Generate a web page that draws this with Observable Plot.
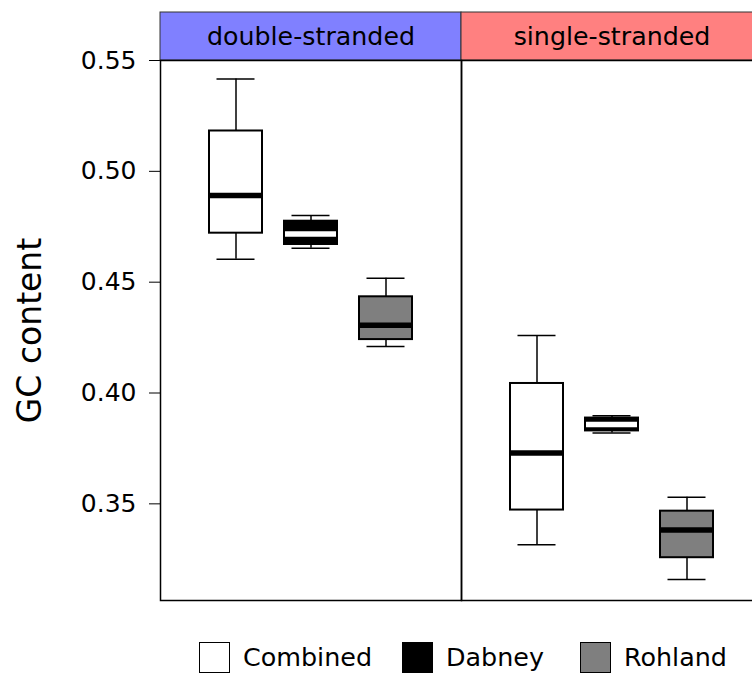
<!DOCTYPE html>
<html>
<head>
<meta charset="utf-8">
<script src="https://cdn.jsdelivr.net/npm/d3@7"></script>
<script src="https://cdn.jsdelivr.net/npm/@observablehq/plot@0.6"></script>
<style>
  html, body { margin: 0; padding: 0; background: white; overflow: hidden; }
  body { width: 752px; height: 674px; font-family: "DejaVu Sans", sans-serif; }
  #legend { display: flex; align-items: center; margin-left: 199px; margin-top: 22px; font-size: 25.4px; color: #000; }
  #legend .sw { width: 31px; height: 31px; box-sizing: border-box; border: 1.5px solid #000; }
  #legend .lb { margin-left: 13px; line-height: 31px; }
</style>
</head>
<body>
<div id="chart"></div>
<div id="legend"></div>
<script>
// ---- data ----
const strands = ["double-stranded", "single-stranded"];
const methods = ["Combined", "Dabney", "Rohland"];
const yTicks = [0.35, 0.40, 0.45, 0.50, 0.55];
const yLabel = "GC content";

const boxStrand = ["double-stranded", "double-stranded", "double-stranded",
                   "single-stranded", "single-stranded", "single-stranded"];
const boxMethod = ["Combined", "Dabney", "Rohland", "Combined", "Dabney", "Rohland"];
const whiskerLow  = [0.4603, 0.4653, 0.4210, 0.3316, 0.3820, 0.3159];
const quartile1   = [0.4721, 0.4670, 0.4241, 0.3472, 0.3829, 0.3257];
const medianVal   = [0.4891, 0.4717, 0.4306, 0.3729, 0.3858, 0.3382];
const quartile3   = [0.5182, 0.4775, 0.4434, 0.4043, 0.3887, 0.3467];
const whiskerHigh = [0.5416, 0.4801, 0.4518, 0.4259, 0.3897, 0.3530];

// ---- styles ----
const methodFill = {"Combined": "#ffffff", "Dabney": "#000000", "Rohland": "#7f7f7f"};
const medianStroke = {"Combined": "#000000", "Dabney": "#ffffff", "Rohland": "#000000"};
const stripFill = {"double-stranded": "#8080ff", "single-stranded": "#ff8080"};
const legendGap = [30, 36, 0];

const rows = boxStrand.map((s, i) => ({
  strand: s, method: boxMethod[i],
  lo: whiskerLow[i], q1: quartile1[i], med: medianVal[i], q3: quartile3[i], hi: whiskerHigh[i]
}));

const chart = Plot.plot({
  width: 762,
  height: 620,
  marginLeft: 160,
  marginRight: 0,
  marginTop: 60,
  marginBottom: 20,
  style: {fontSize: "25px", fontFamily: "DejaVu Sans", maxWidth: "none", background: "white", color: "#000", overflow: "visible"},
  fx: {domain: strands, padding: 0, axis: null, label: null},
  x: {domain: methods, paddingInner: 0.296, paddingOuter: 0.648, axis: null, label: null},
  y: {domain: [0.3064, 0.55], ticks: yTicks, tickFormat: ".2f", tickSize: 11, tickPadding: 13, label: null},
  color: {type: "identity"},
  marks: [
    // facet strips
    Plot.rect(strands, {fx: d => d, fill: d => stripFill[d], stroke: "#333", strokeWidth: 1, insetBottom: 492, dy: -48}),
    Plot.text(strands, {fx: d => d, text: d => d, frameAnchor: "top", lineAnchor: "middle", dy: -24, fontSize: 25.3, fill: "#000"}),
    // y label
    Plot.text([strands[0]], {fx: d => d, text: () => yLabel, frameAnchor: "left", textAnchor: "middle", lineAnchor: "middle", dx: -130, rotate: -90, fontSize: 33, fill: "#000"}),
    // whiskers
    Plot.ruleX(rows, {fx: "strand", x: "method", y1: "lo", y2: "hi", stroke: "#000", strokeWidth: 1.5}),
    Plot.tickY(rows, {fx: "strand", x: "method", y: "lo", stroke: "#000", strokeWidth: 1.5, inset: 7.5}),
    Plot.tickY(rows, {fx: "strand", x: "method", y: "hi", stroke: "#000", strokeWidth: 1.5, inset: 7.5}),
    // boxes
    Plot.barY(rows, {fx: "strand", x: "method", y1: "q1", y2: "q3", fill: d => methodFill[d.method], stroke: "#000", strokeWidth: 2}),
    // medians
    Plot.tickY(rows, {fx: "strand", x: "method", y: "med", stroke: d => medianStroke[d.method], strokeWidth: 5.5, inset: 1}),
    // panel border
    Plot.frame({stroke: "#000", strokeWidth: 1.5})
  ]
});
document.getElementById("chart").appendChild(chart);

// legend
const legend = document.getElementById("legend");
methods.forEach((m, i) => {
  const sw = document.createElement("div");
  sw.className = "sw";
  sw.style.background = methodFill[m];
  const lb = document.createElement("span");
  lb.className = "lb";
  lb.style.marginRight = legendGap[i] + "px";
  lb.textContent = m;
  legend.appendChild(sw);
  legend.appendChild(lb);
});
</script>
</body>
</html>
